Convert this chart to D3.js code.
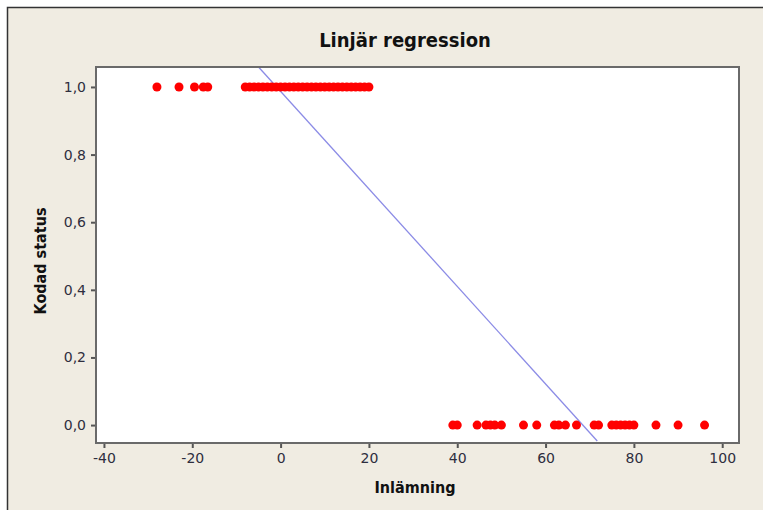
<!DOCTYPE html>
<html>
<head>
<meta charset="utf-8">
<script src="https://cdn.jsdelivr.net/npm/d3@7"></script>
<style>
  body { margin: 0; background: #fff; }
  text { font-family: "DejaVu Sans Condensed", "DejaVu Sans", sans-serif; }
</style>
</head>
<body>
<div id="chart"></div>
<script>
// data
const status1 = [-28, -23, -19.5, -17.5, -16.5, -8, -7, -6, -5, -4, -3, -2, -1, 0, 1, 2, 3, 4, 5, 6, 7, 8, 9, 10, 11, 12, 13, 14, 15, 16, 17, 18, 19, 20];
const status0 = [39, 40, 44.5, 46.5, 47.5, 48.5, 50, 55, 58, 62, 63, 64.5, 67, 71, 72, 75, 76, 77, 78, 79, 80, 85, 90, 96];
const xTicks = [-40, -20, 0, 20, 40, 60, 80, 100];
const yTicks = [0, 0.2, 0.4, 0.6, 0.8, 1.0];
const fitLine = [[-5, 1.059], [71.7, -0.047]]; // regression line end points

const points = status1.map(x => ({x: x, y: 1})).concat(status0.map(x => ({x: x, y: 0})));

const width = 763, height = 510,
      margin = ({top: 67, right: 24, bottom: 67, left: 96});

const svg = d3.select("#chart")
  .append("svg")
  .attr("width", width)
  .attr("height", height);

// background panel with left/top border
svg.append("rect")
  .attr("x", 7).attr("y", 7)
  .attr("width", width).attr("height", height)
  .attr("fill", "#f0ece2");
svg.append("path")
  .attr("d", `M7.5,${height} V7.5 H${width}`)
  .attr("fill", "none")
  .attr("stroke", "#333")
  .attr("stroke-width", 1.5);

let x = d3.scaleLinear()
  .domain([-41.8, 103.8])
  .range([margin.left, width - margin.right]);

let y = d3.scaleLinear()
  .domain([-0.053, 1.059])
  .range([height - margin.bottom, margin.top]);

// plot area
svg.append("rect")
  .attr("x", margin.left)
  .attr("y", margin.top)
  .attr("width", width - margin.left - margin.right)
  .attr("height", height - margin.top - margin.bottom)
  .attr("fill", "#fff");

const fmt = d => d3.format(".1f")(d).replace(".", ",");

let xAxis = svg.append("g")
  .attr("transform", `translate(0,${height - margin.bottom})`)
  .call(d3.axisBottom(x).tickValues(xTicks).tickSize(5).tickPadding(5).tickFormat(d => String(d)));

let yAxis = svg.append("g")
  .attr("transform", `translate(${margin.left},0)`)
  .call(d3.axisLeft(y).tickValues(yTicks).tickSize(5).tickPadding(5).tickFormat(fmt));

[xAxis, yAxis].forEach(a => {
  a.select(".domain").remove();
  a.selectAll(".tick line").attr("stroke", "#555").attr("stroke-width", 2);
  a.selectAll(".tick text")
    .attr("fill", "#2e2e3e")
    .style("font-family", "'DejaVu Sans', sans-serif")
    .style("font-size", "14px");
});

// regression line
svg.append("line")
  .attr("x1", x(fitLine[0][0])).attr("y1", y(fitLine[0][1]))
  .attr("x2", x(fitLine[1][0])).attr("y2", y(fitLine[1][1]))
  .attr("stroke", "#8c8ce6")
  .attr("stroke-width", 1.3);

// points
svg.selectAll(".dot")
  .data(points)
  .join("circle")
  .attr("class", "dot")
  .attr("cx", d => x(d.x))
  .attr("cy", d => y(d.y))
  .attr("r", 4.5)
  .attr("fill", "#f00");

// frame
svg.append("rect")
  .attr("x", margin.left)
  .attr("y", margin.top)
  .attr("width", width - margin.left - margin.right)
  .attr("height", height - margin.top - margin.bottom)
  .attr("fill", "none")
  .attr("stroke", "#6a6a6a")
  .attr("stroke-width", 2);

// titles
svg.append("text")
  .attr("x", 405)
  .attr("y", 47)
  .attr("text-anchor", "middle")
  .style("font-size", "20px")
  .style("font-weight", "bold")
  .attr("fill", "#111")
  .text("Linjär regression");

svg.append("text")
  .attr("x", 415)
  .attr("y", 493)
  .attr("text-anchor", "middle")
  .style("font-size", "16px")
  .style("font-weight", "bold")
  .attr("fill", "#111")
  .text("Inlämning");

svg.append("text")
  .attr("transform", "translate(46,261) rotate(-90)")
  .attr("text-anchor", "middle")
  .style("font-size", "16px")
  .style("font-weight", "bold")
  .attr("fill", "#111")
  .text("Kodad status");
</script>
</body>
</html>
